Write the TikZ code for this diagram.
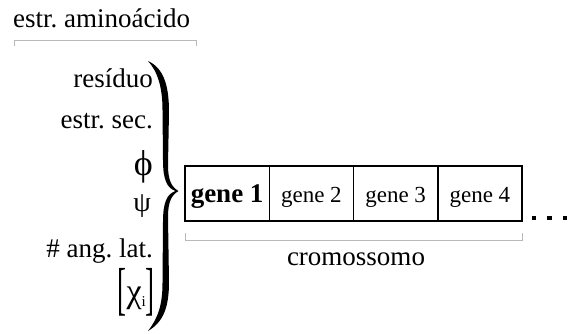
\documentclass[tikz,border=0pt]{standalone}
\usepackage{fontspec}
\setmainfont{Liberation Serif}
\frenchspacing
\begin{document}
\begin{tikzpicture}[x=1pt,y=-1pt,
  lbl/.style={inner sep=0pt, font=\fontsize{27}{30}\selectfont},
  genelbl/.style={font=\fontsize{23}{26}\selectfont},
  bracketline/.style={draw=gray!55, line width=1pt},
  cell/.style={draw=black, line width=1.5pt, minimum width=84.25pt, minimum height=55pt,
    inner sep=0pt, outer sep=0pt, anchor=west, text height=17pt, text depth=0pt},
  dotsq/.style={fill=black, minimum size=4.5pt, inner sep=0pt}
]
\useasboundingbox (0,0) rectangle (576,333);

% top label
\node[lbl, anchor=base west] (amino) at (13,27) {estr. aminoácido};
\coordinate (a1) at (14,46);
\coordinate (a2) at (14,40);
\coordinate (a3) at (196,40);
\coordinate (a4) at (196,46);
\draw[bracketline] (a1) -- (a2) -- (a3) -- (a4);

% left labels
\node[lbl, anchor=base east] (res) at (153,87) {resíduo};
\node[lbl, anchor=base east] (sec) at (153,128) {estr. sec.};
\node[lbl, anchor=base east, font=\fontsize{36}{36}\selectfont] (phi) at (153,175) {ϕ};
\node[lbl, anchor=base east, font=\fontsize{28}{30}\selectfont] (psi) at (151,211) {ψ};
\node[lbl, anchor=base east] (ang) at (153,257) {\# ang. lat.};
\node[lbl, anchor=base east] (chi) at (155,298) {\raisebox{-10.7pt}{\scalebox{1}[2.14]{[}}\raisebox{-4pt}{\fontsize{34}{34}\selectfont χ}\raisebox{-8pt}{\fontsize{15}{15}\selectfont i}\raisebox{-10.7pt}{\scalebox{1}[2.14]{]}}};

% brace
\fill[black] (148,61) .. controls (163.5,68) and (169,85) .. (169,112)
  -- (168,165) .. controls (168,180) and (171.5,187) .. (178.5,191)
  .. controls (171.5,195) and (168,202) .. (168,217)
  -- (169,282) .. controls (169,307) and (163.5,322) .. (148,331)
  .. controls (158,318) and (162.5,305) .. (162.5,283)
  -- (163,222) .. controls (163,202) and (167,194) .. (175.5,191)
  .. controls (167,188) and (163,180) .. (163,160)
  -- (162.5,110) .. controls (162.5,88) and (158,72) .. (148,61) -- cycle;

% chromosome cells
\node[cell, font=\fontsize{27}{30}\selectfont\bfseries] (g1) at (185,193.5) {gene 1};
\node[cell, genelbl] (g2) at (g1.east) {gene 2};
\node[cell, genelbl] (g3) at (g2.east) {gene 3};
\node[cell, genelbl] (g4) at (g3.east) {gene 4};

% dots
\node[dotsq] (d1) at (534,218) {};
\node[dotsq] (d2) at (549.5,218) {};
\node[dotsq] (d3) at (565,218) {};

% bottom bracket
\coordinate (b1) at (185,233);
\coordinate (b2) at (185,240);
\coordinate (b3) at (522,240);
\coordinate (b4) at (522,233);
\draw[bracketline] (b1) -- (b2) -- (b3) -- (b4);
\node[lbl, anchor=base] (crom) at (356,265) {cromossomo};
\end{tikzpicture}
\end{document}
